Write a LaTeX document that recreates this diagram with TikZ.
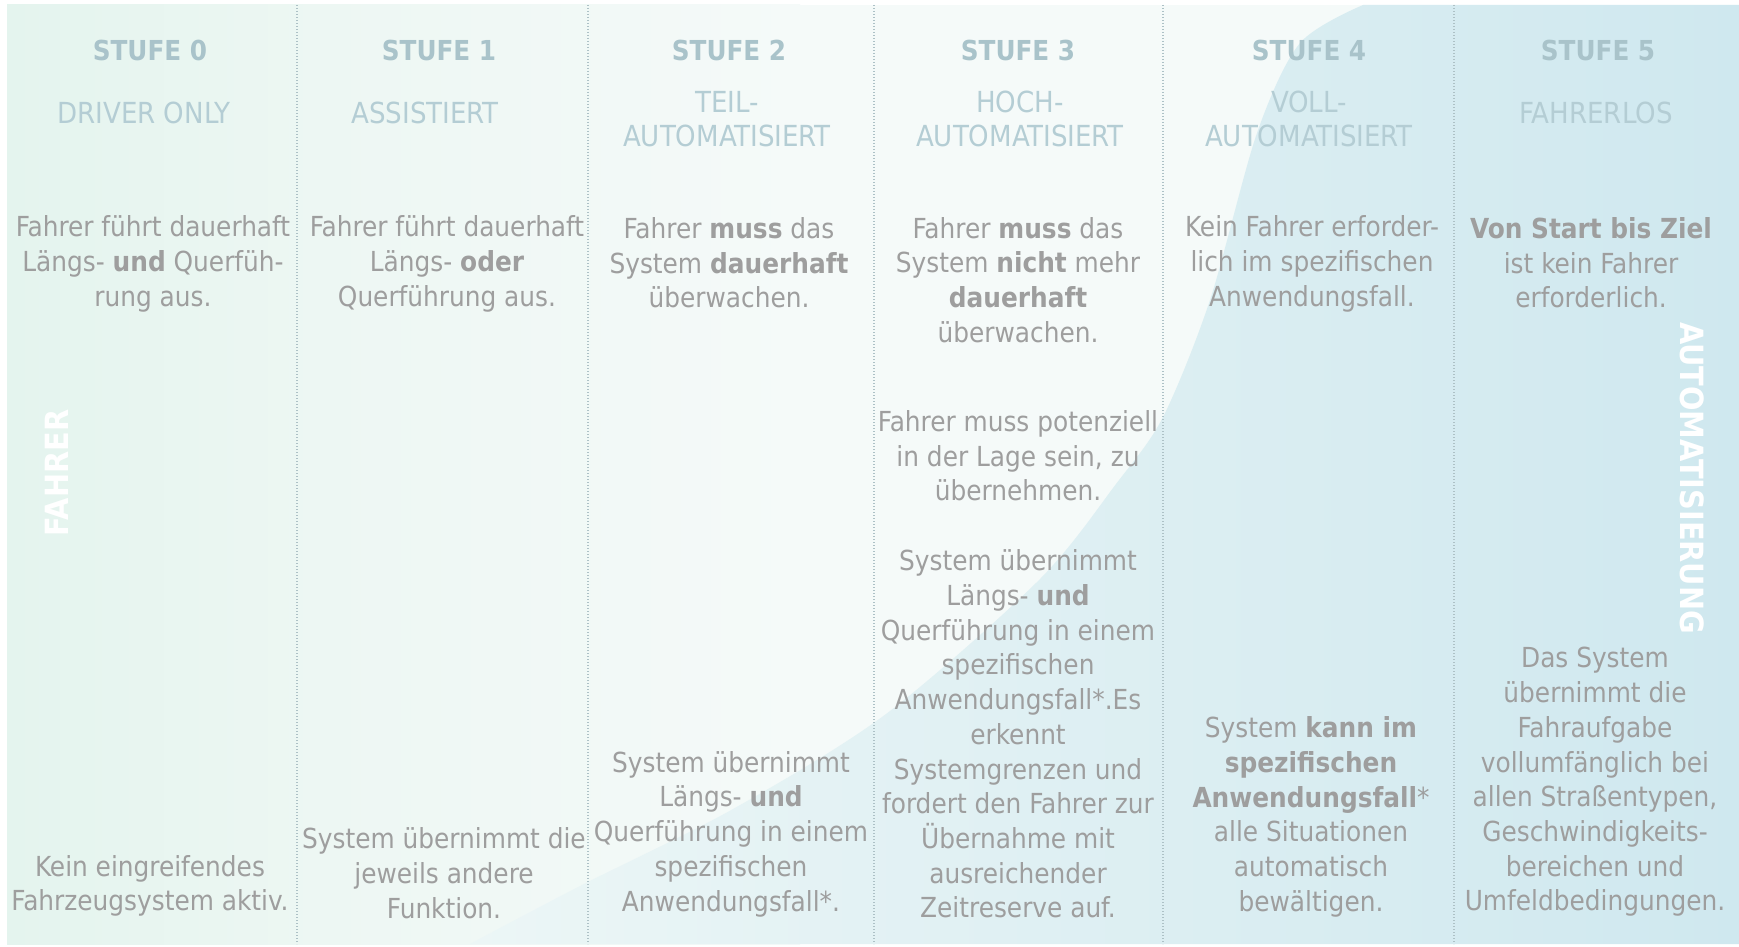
\documentclass[tikz,border=0pt]{standalone}
\usepackage{fontspec}
\setmainfont{DejaVu Sans Condensed}
\definecolor{txt}{HTML}{9E9E9E}
\definecolor{head}{HTML}{A9C3CA}
\definecolor{sub}{HTML}{B4CDD4}
\definecolor{mintA}{HTML}{E4F4EE}
\definecolor{mintB}{HTML}{EDF7F3}
\definecolor{paleW}{HTML}{F5FAF9}
\definecolor{blueA}{HTML}{ECF6F6}
\definecolor{blueM}{HTML}{DAEEF3}
\definecolor{blueB}{HTML}{CFE8EF}
\definecolor{divc}{HTML}{ADC1C6}
\begin{document}
\begin{tikzpicture}[x=1pt,y=-1pt,
  body/.style={align=center, text=txt, inner sep=0pt, font=\fontsize{27.6}{34.7}\selectfont},
  stufe/.style={text=head, inner sep=0pt, font=\fontsize{27.5}{33}\selectfont\bfseries},
  subt/.style={align=center, text=sub, inner sep=0pt, font=\fontsize{29}{34}\selectfont},
  vlab/.style={text=white, inner sep=0pt, font=\fontsize{32}{36}\selectfont\bfseries},
  divider/.style={draw=divc, line width=1.3pt, dash pattern=on 1.3pt off 1.7pt}]
\useasboundingbox (0,0) rectangle (1739,947);
\fill[white] (0,0) rectangle (1739,947);
\shade[left color=mintA, right color=mintB] (7,5) rectangle (320,944);
\shade[left color=mintB, right color=paleW] (320,5) rectangle (800,944);
\fill[paleW] (800,5) rectangle (1739,944);
\begin{scope}
\clip plot[smooth] coordinates {(470,944) (580,886) (733,809) (886,714) (1039,580) (1116,484) (1163,417) (1210,300) (1257,133) (1300,43) (1363,5)} -- (1739,5) -- (1739,944) -- cycle;
\shade[left color=blueA, middle color=blueM, right color=blueB] (470,5) rectangle (1739,944);
\end{scope}
\foreach \x in {297,588,874,1163,1454} \draw[divider] (\x,5) -- (\x,944);

\node[stufe] (s0) at (150,50) {STUFE 0};
\node[stufe] (s1) at (439,50) {STUFE 1};
\node[stufe] (s2) at (729,50) {STUFE 2};
\node[stufe] (s3) at (1018,50) {STUFE 3};
\node[stufe] (s4) at (1309,50) {STUFE 4};
\node[stufe] (s5) at (1598,50) {STUFE 5};

\node[subt] (t0) at (144,113) {DRIVER ONLY};
\node[subt] (t1) at (425,113) {ASSISTIERT};
\node[subt] (t2) at (727,119) {TEIL-\\AUTOMATISIERT};
\node[subt] (t3) at (1020,119) {HOCH-\\AUTOMATISIERT};
\node[subt] (t4) at (1309,119) {VOLL-\\AUTOMATISIERT};
\node[subt] (t5) at (1596,113) {FAHRERLOS};

\node[body] (a0) at (153,264) {Fahrer führt dauerhaft\\Längs- \textbf{und} Querfüh-\\rung aus.};
\node[body] (a1) at (447,264) {Fahrer führt dauerhaft\\Längs- \textbf{oder}\\Querführung aus.};
\node[body] (a2) at (729,263) {Fahrer \textbf{muss} das\\System \textbf{dauerhaft}\\überwachen.};
\node[body] (a3) at (1018,280) {Fahrer \textbf{muss} das\\System \textbf{nicht} mehr\\\textbf{dauerhaft}\\überwachen.};
\node[body] (a4) at (1312,264) {Kein Fahrer erforder-\\lich im spezifischen\\Anwendungsfall.};
\node[body] (a5) at (1591,263) {\textbf{Von Start bis Ziel}\\ist kein Fahrer\\erforderlich.};

\node[body] (m3) at (1018,456) {Fahrer muss potenziell\\in der Lage sein, zu\\übernehmen.};

\node[body] (b0) at (150,886) {Kein eingreifendes\\Fahrzeugsystem aktiv.};
\node[body] (b1) at (444,873) {System übernimmt die\\jeweils andere\\Funktion.};
\node[body] (b2) at (731,834) {System übernimmt\\Längs- \textbf{und}\\Querführung in einem\\spezifischen\\Anwendungsfall*.};
\node[body] (b3) at (1018,734) {System übernimmt\\Längs- \textbf{und}\\Querführung in einem\\spezifischen\\Anwendungsfall*.Es\\erkennt\\Systemgrenzen und\\fordert den Fahrer zur\\Übernahme mit\\ausreichender\\Zeitreserve auf.};
\node[body] (b4) at (1311,817) {System \textbf{kann im}\\\textbf{spezifischen}\\\textbf{Anwendungsfall}*\\alle Situationen\\automatisch\\bewältigen.};
\node[body] (b5) at (1595,782) {Das System\\übernimmt die\\Fahraufgabe\\vollumfänglich bei\\allen Straßentypen,\\Geschwindigkeits-\\bereichen und\\Umfeldbedingungen.};

\node[vlab, rotate=90] (vf) at (57,473) {FAHRER};
\node[vlab, rotate=-90] (va) at (1692,478) {AUTOMATISIERUNG};
\end{tikzpicture}
\end{document}
